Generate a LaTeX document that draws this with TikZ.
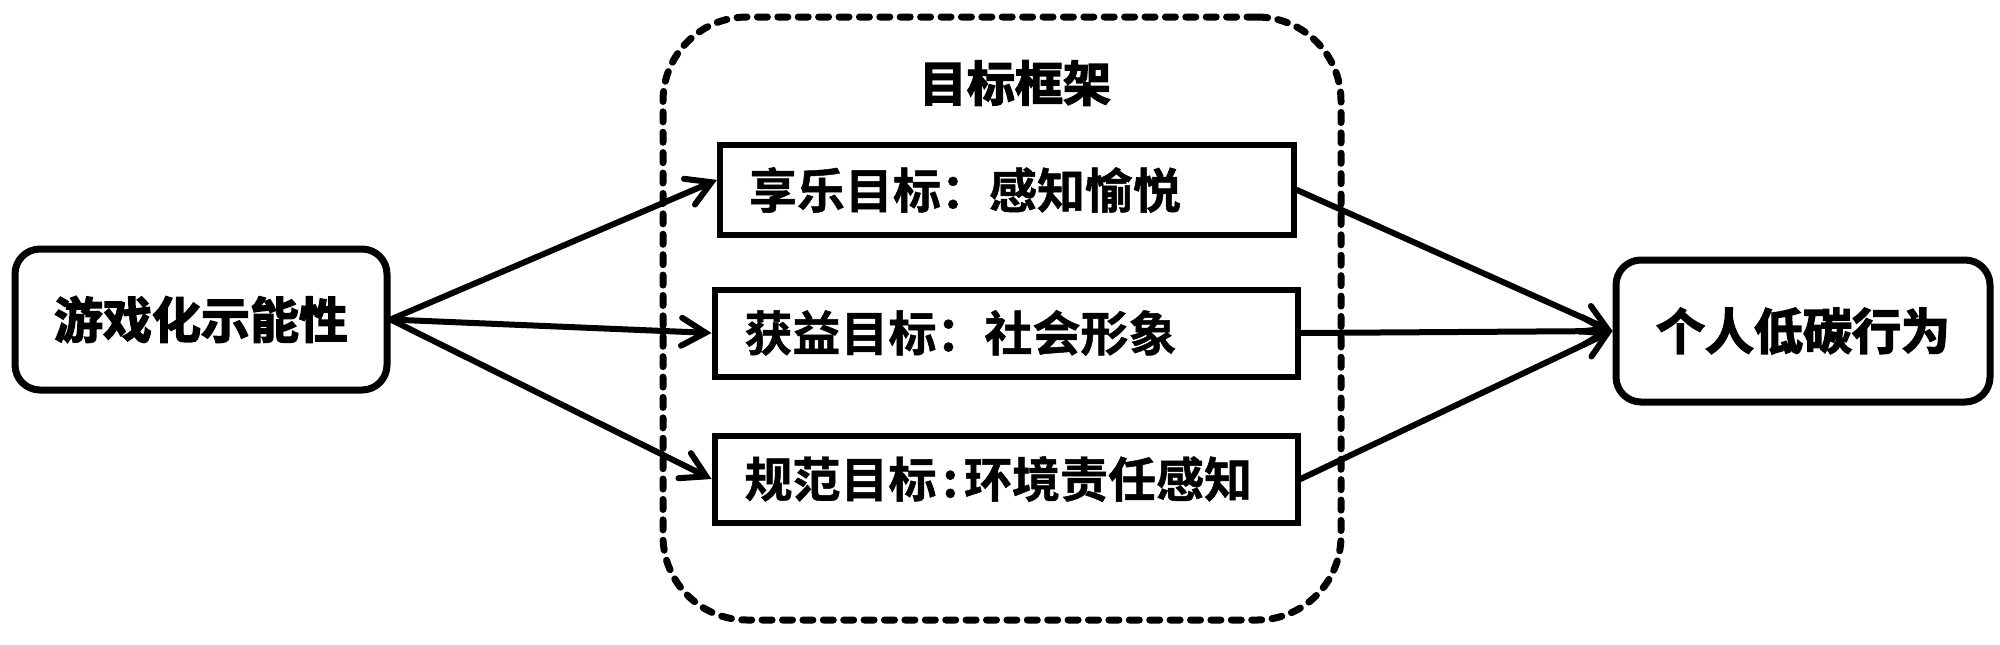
\documentclass[tikz,border=0pt]{standalone}
\usepackage{fontspec}
\usetikzlibrary{arrows.meta}
\newfontfamily\cjkb{Noto Sans CJK SC Bold}[FakeBold=1]
\newfontfamily\cjkh{Noto Sans CJK SC Bold}[FakeBold=3]
\tikzset{
  endbox/.style={draw, line width=3.5pt, rounded corners=12.5pt, minimum width=186pt, minimum height=70.5pt,
    inner sep=0pt, font=\cjkh\fontsize{24.5pt}{28pt}\selectfont},
  goalbox/.style={draw, line width=3pt, inner ysep=0pt, align=left,
    font=\cjkb\fontsize{24pt}{28pt}\selectfont},
  frame/.style={draw, line width=3.5pt, dash pattern=on 5pt off 5.2pt, line cap=round, rounded corners=42pt,
    minimum width=339pt, minimum height=301.5pt, inner sep=0pt},
  arr/.style={line width=3pt, line cap=round, -{Straight Barb[length=12pt,width=14pt,line cap=round]}}
}
\begin{document}
\begin{tikzpicture}[x=0.5pt,y=-0.5pt]
\useasboundingbox (0,0) rectangle (2000,644);
\node[frame] (fr) at (1002,318.5) {};
\node[font=\cjkh\fontsize{24pt}{28pt}\selectfont] (tt) at (1015,83) {目标框架};
\node[endbox] (lb) at (201,319.5) {游戏化示能性};
\node[endbox, minimum width=187pt, minimum height=71pt] (rb) at (1803,331) {个人低碳行为};
\node[goalbox, inner xsep=14.5pt, text width=258pt, minimum height=45pt] (b1) at (1007,190) {享乐目标：感知愉悦};
\node[goalbox, inner xsep=15pt, text width=261.5pt, minimum height=43.5pt] (b2) at (1006,333) {获益目标：社会形象};
\node[goalbox, inner xsep=15pt, text width=261.5pt, minimum height=43.5pt] (b3) at (1006,479) {规范目标\kern3pt:\kern3pt 环境责任感知};
\draw[arr] (lb.east) -- (b1.178.6);
\draw[arr] (lb.east) -- (b2.west);
\draw[arr] (lb.east) -- (b3.west);
\draw[arr] (b1.east) -- (rb.west);
\draw[arr] (b2.east) -- (rb.west);
\draw[arr] (b3.east) -- (rb.west);
\end{tikzpicture}
\end{document}
